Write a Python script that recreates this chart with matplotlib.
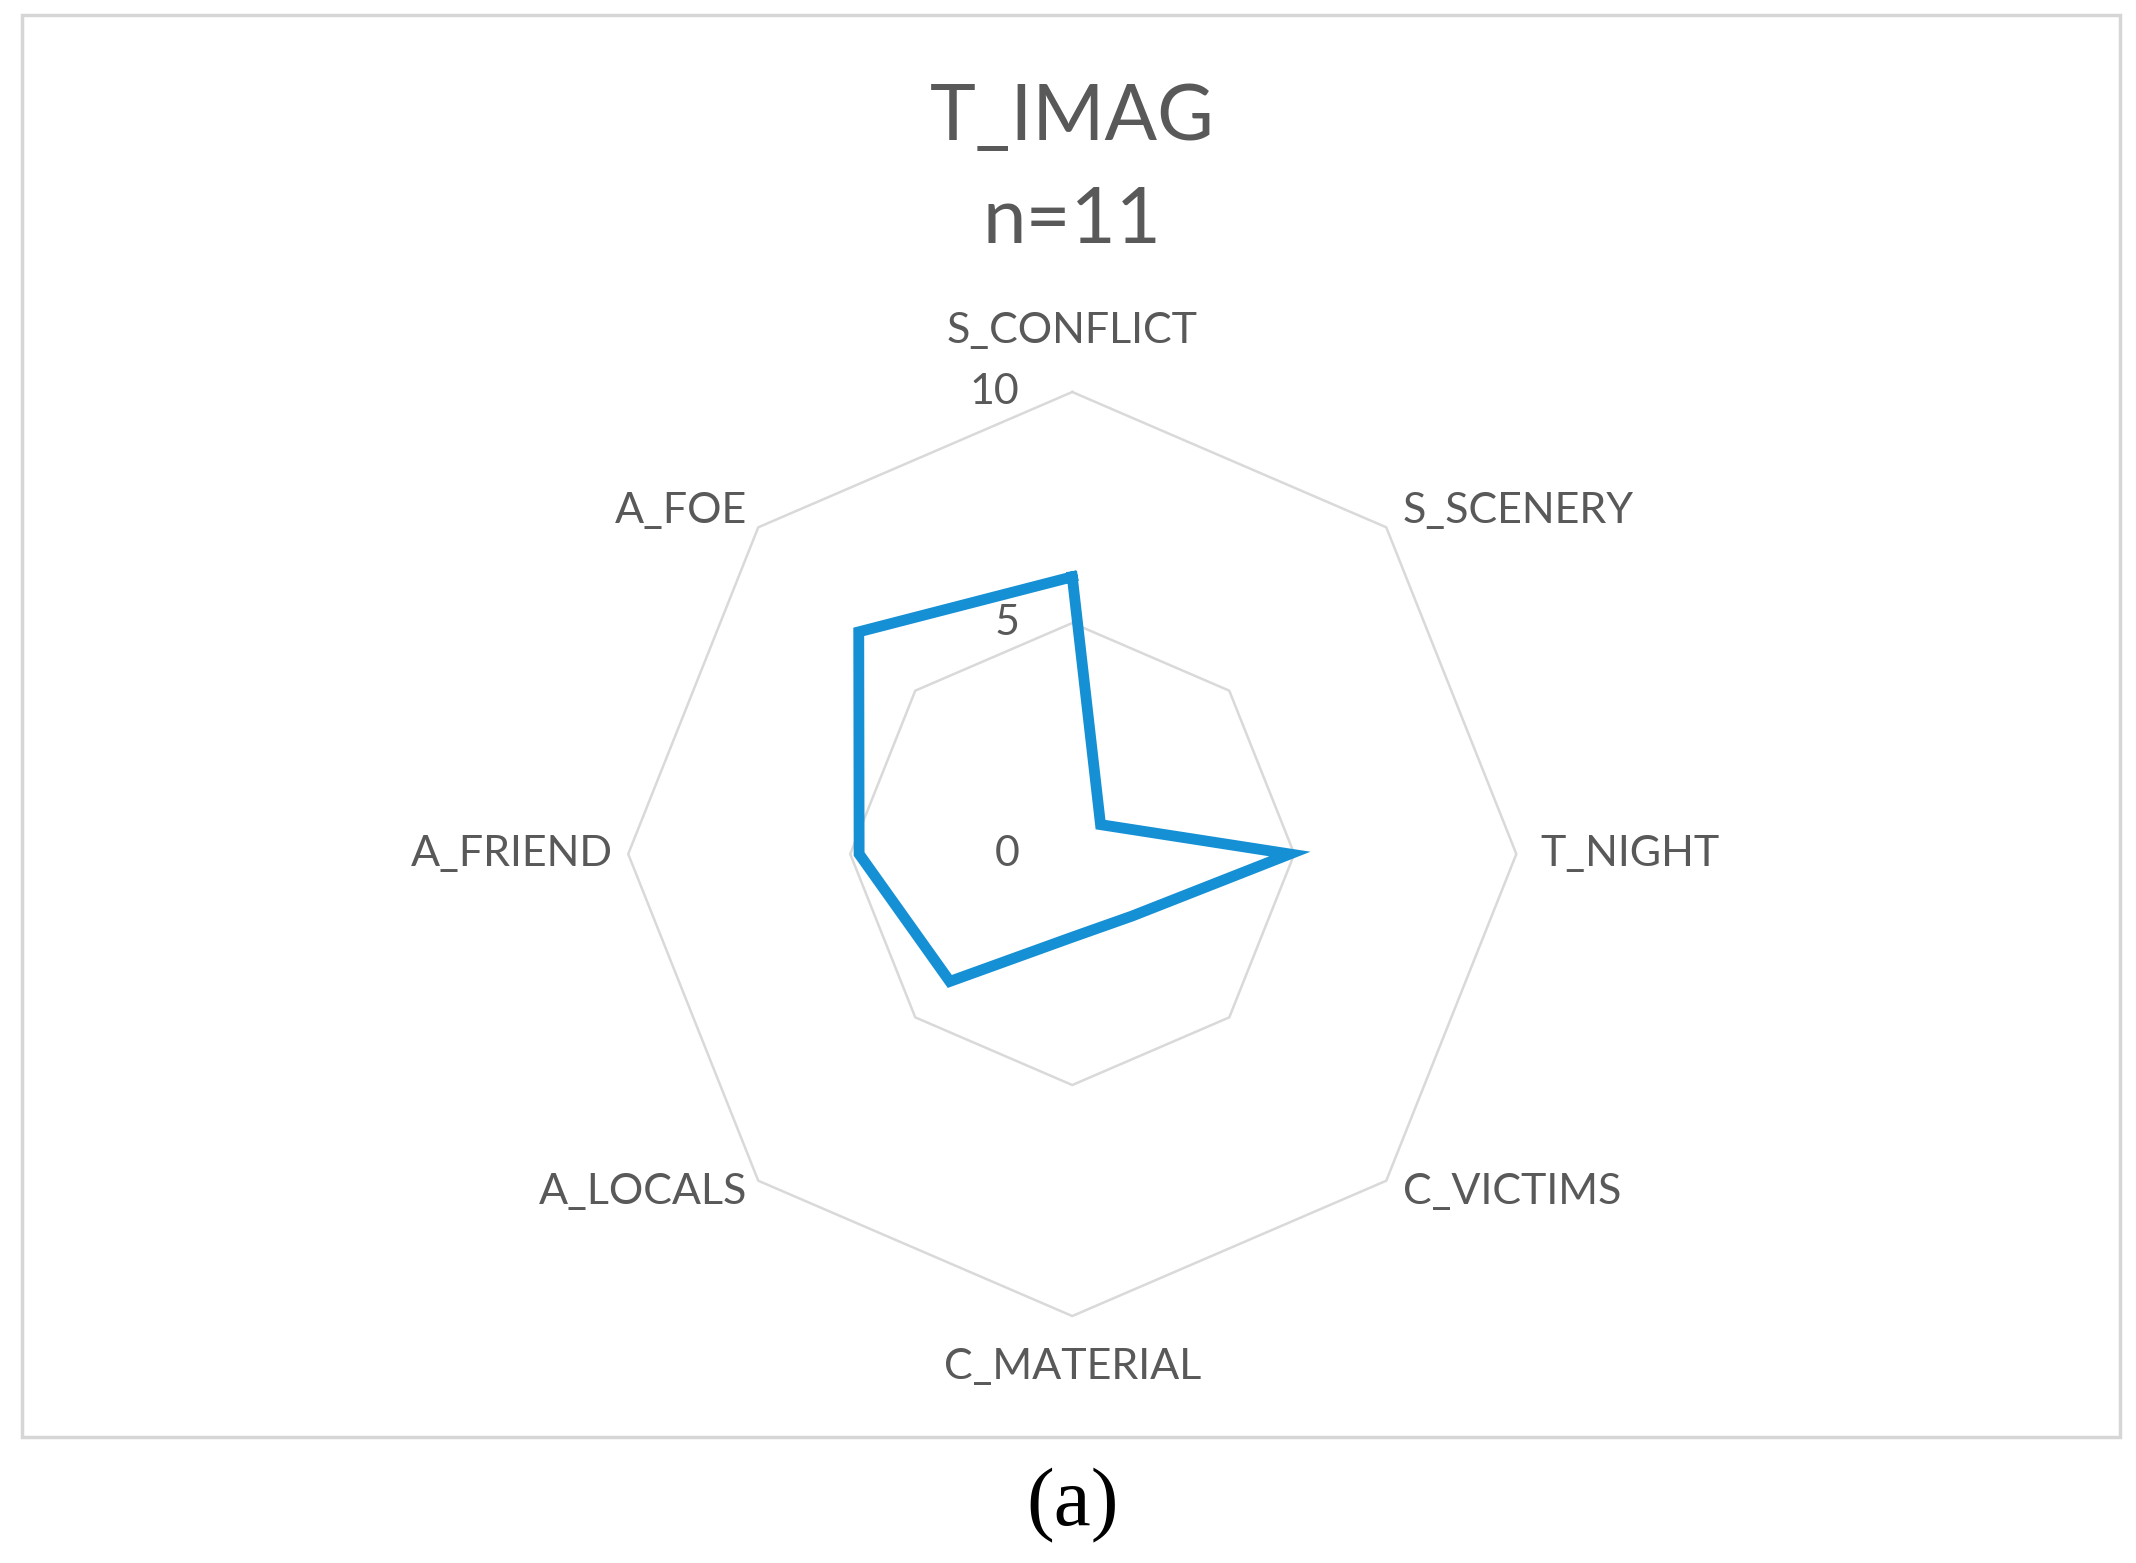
import matplotlib as mpl
mpl.use('Agg')
import matplotlib.pyplot as plt
import matplotlib.patches as patches
import numpy as np

# radar data: T_IMAG, n=11
categories = ['S_CONFLICT', 'S_SCENERY', 'T_NIGHT', 'C_VICTIMS',
              'C_MATERIAL', 'A_LOCALS', 'A_FRIEND', 'A_FOE']
values = [6.0, 0.9, 4.9, 1.9, 1.8, 3.9, 4.8, 6.8]
rings = [5, 10]
tick_labels = ['0', '5', '10']
tick_values = [0, 5, 10]

title = 'T_IMAG'
subtitle = 'n=11'
caption = '(a)'

text_col = '#595959'
grid_col = '#d9d9d9'
line_col = '#1590d4'

mpl.rc('font', family=['Lato', 'DejaVu Sans'])

f = plt.figure(figsize=(21.36, 15.63), dpi=100)

# chart frame
frame = patches.Rectangle((0.0103, 0.0806), 0.9822, 0.9098, transform=f.transFigure,
                          fill=False, edgecolor='#d6d6d6', linewidth=2.5)
f.patches.append(frame)

# plot area is a bit narrower than tall in the original
ax = f.add_axes([0.502 - 0.2079, 0.4536 - 0.2956, 0.4158, 0.5912], projection='polar')
ax.set_aspect('auto')
ax.set_theta_zero_location('N')
ax.set_theta_direction(-1)
ax.set_ylim(0, 10)
ax.grid(False)
ax.spines['polar'].set_visible(False)
ax.set_xticks([])
ax.set_yticks([])
ax.patch.set_alpha(0)

n = len(categories)
angles = np.linspace(0, 2 * np.pi, n, endpoint=False)
closed = np.append(angles, angles[0])

# octagon gridlines
for r in rings:
    ax.plot(closed, [r] * (n + 1), color=grid_col, lw=1.8, zorder=1, clip_on=False)

# data line
vals = values + values[:1]
ax.plot(closed, vals, color=line_col, lw=7.8, zorder=3, solid_joinstyle='miter', clip_on=False)

# category labels
offsets = [
    ((0, 44), 'center', 'center'),
    ((12, 12), 'left', 'center'),
    ((17, 0), 'left', 'center'),
    ((12, -8), 'left', 'center'),
    ((0, -37), 'center', 'center'),
    ((-8, -8), 'right', 'center'),
    ((-11, 0), 'right', 'center'),
    ((-8, 12), 'right', 'center'),
]
for a, lab, (off, ha, va) in zip(angles, categories, offsets):
    ax.annotate(lab, xy=(a, 10), xytext=off, textcoords='offset points',
                ha=ha, va=va, fontsize=31, color=text_col, annotation_clip=False)

# radial tick labels
for tv, tl in zip(tick_values, tick_labels):
    ax.annotate(tl, xy=(0, tv), xytext=(-38, 0), textcoords='offset points',
                ha='right', va='center', fontsize=31, color=text_col, annotation_clip=False)

f.text(0.502, 0.9245, title, ha='center', va='center', fontsize=56, color=text_col)
f.text(0.502, 0.858, subtitle, ha='center', va='center', fontsize=56, color=text_col)

f.text(0.502, 0.037, caption, ha='center', va='center', fontsize=60,
       family=['Liberation Serif', 'DejaVu Serif'], color='black')

plt.savefig('out.png', dpi=100)
plt.close(f)
